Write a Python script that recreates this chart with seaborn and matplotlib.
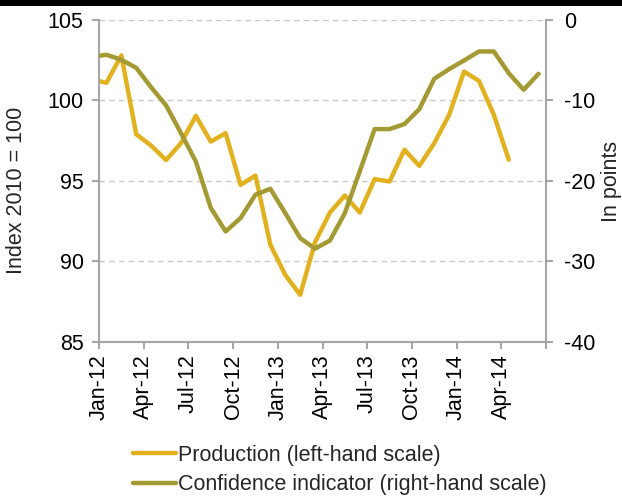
import numpy as np
import pandas as pd
import matplotlib
matplotlib.use("Agg")
import matplotlib.pyplot as plt
from matplotlib.patches import Rectangle
import seaborn as sns

# Monthly observations, Dec-11 to Jun-14
months = ["Dec-11",
          "Jan-12", "Feb-12", "Mar-12", "Apr-12", "May-12", "Jun-12",
          "Jul-12", "Aug-12", "Sep-12", "Oct-12", "Nov-12", "Dec-12",
          "Jan-13", "Feb-13", "Mar-13", "Apr-13", "May-13", "Jun-13",
          "Jul-13", "Aug-13", "Sep-13", "Oct-13", "Nov-13", "Dec-13",
          "Jan-14", "Feb-14", "Mar-14", "Apr-14", "May-14", "Jun-14"]

# Production index (2010 = 100), left-hand scale
production = [101.3,
              101.1, 102.8, 97.9, 97.2, 96.3, 97.35,
              99.05, 97.45, 97.97, 94.76, 95.34, 91.04,
              89.17, 87.93, 91.2, 93.04, 94.1, 93.04,
              95.12, 94.97, 96.94, 95.94, 97.35, 99.11,
              101.8, 101.22, 99.11, 96.32, np.nan, np.nan]

# Confidence indicator (points), right-hand scale
confidence = [-4.57,
              -4.32, -4.94, -5.94, -8.36, -10.6, -14.05,
              -17.58, -23.33, -26.27, -24.6, -21.7, -20.97,
              -23.99, -27.09, -28.4, -27.39, -23.99, -18.8,
              -13.55, -13.55, -12.93, -11.07, -7.3, -6.1,
              -5.03, -3.91, -3.91, -6.6, -8.67, -6.68]

tick_labels = ["Jan-12", "Apr-12", "Jul-12", "Oct-12", "Jan-13", "Apr-13",
               "Jul-13", "Oct-13", "Jan-14", "Apr-14", ""]

left_ticks = [85, 90, 95, 100, 105]
right_ticks = [-40, -30, -20, -10, 0]

sns.set_theme(style="white")
plt.rcParams["font.family"] = ["Liberation Sans", "DejaVu Sans"]

FS = 15.5

# each month is plotted at the centre of its slot; Jan-12 slot starts at 0
df = pd.DataFrame({
    "month": months,
    "pos": np.arange(len(months)) - 0.5,
    "production": production,
    "confidence": confidence,
})

prod_color = "#E2B11F"
conf_color = "#A39A33"
axis_gray = "#A6A6A6"

fig = plt.figure(figsize=(6.22, 4.97), dpi=100)
ax = fig.add_axes([99 / 622, 1 - 342 / 497, 447 / 622, 322 / 497])
ax2 = ax.twinx()

sns.lineplot(data=df, x="pos", y="production", ax=ax, color=prod_color,
             lw=3.2, label="Production (left-hand scale)", legend=False)
sns.lineplot(data=df, x="pos", y="confidence", ax=ax2, color=conf_color,
             lw=3.2, label="Confidence indicator (right-hand scale)", legend=False)

ax.set_xlim(0, 30)
ax.set_ylim(85, 105)
ax2.set_ylim(-40, 0)
ax.set_xticks(np.arange(0, 31, 3))
ax.set_xticklabels(tick_labels, rotation=90)
ax.set_yticks(left_ticks)
ax2.set_yticks(right_ticks)
ax2.set_yticklabels([str(t) for t in right_ticks])

ax.set_xlabel("")
ax.set_ylabel("Index 2010 = 100", fontsize=FS)
ax2.set_ylabel("In points", fontsize=FS)
ax.yaxis.set_label_coords(-0.162, 0.47)
ax2.yaxis.set_label_coords(1.122, 0.5)

# dashed horizontal gridlines
for v in left_ticks[1:]:
    ax.axhline(v, color="#C8C8C8", lw=1.0, ls=(0, (4, 3)), zorder=0)

for a in (ax, ax2):
    a.grid(False)
    a.spines["top"].set_visible(False)
    for side in ("left", "right", "bottom"):
        a.spines[side].set_color(axis_gray)
        a.spines[side].set_linewidth(1.5)
    a.tick_params(axis="both", colors=axis_gray, labelcolor="black",
                  labelsize=FS, length=5, width=1.5, direction="out")

ax.spines["right"].set_visible(False)
ax2.spines["left"].set_visible(False)
ax.tick_params(axis="y", pad=6, left=True)
ax.tick_params(axis="x", pad=4, bottom=True)
ax2.tick_params(axis="y", pad=8, right=True)

# legend below the axis
handles = ax.get_lines()[:1] + ax2.get_lines()[:1]
labels = [h.get_label() for h in handles]
fig.legend(handles, labels, loc="upper left",
           bbox_to_anchor=(124 / 622, 1 - 436 / 497), frameon=False,
           fontsize=FS, handlelength=2.0, handletextpad=0.12,
           labelspacing=0.4, borderaxespad=0)

# black band along the top edge
fig.add_artist(Rectangle((0, 1 - 6 / 497), 1, 6 / 497,
                         transform=fig.transFigure, color="black", lw=0))

fig.savefig("out.png", dpi=100)
